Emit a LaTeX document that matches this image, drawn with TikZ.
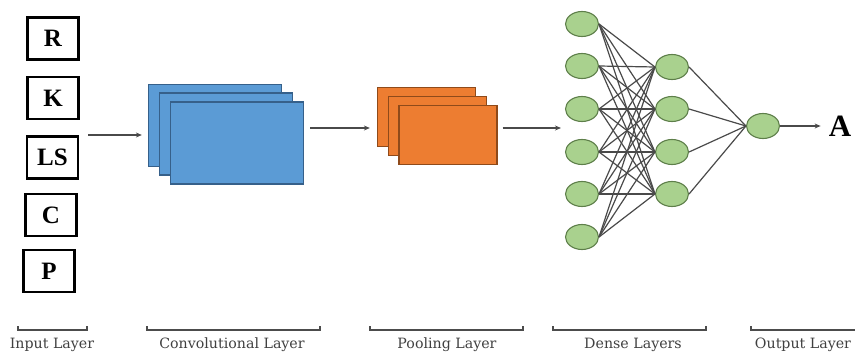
\documentclass[tikz,border=0pt]{standalone}
\usepackage{fontspec}
\setmainfont{Liberation Serif}
\newfontfamily\boxfont{Liberation Serif Bold}
\newfontfamily\capfont{DejaVu Serif}
\usetikzlibrary{shapes.geometric,arrows.meta}

\definecolor{convblue}{HTML}{5B9BD5}
\definecolor{convedge}{HTML}{36608A}
\definecolor{poolorange}{HTML}{ED7D31}
\definecolor{pooledge}{HTML}{8F4A1A}
\definecolor{densegreen}{HTML}{A9D18E}
\definecolor{denseedge}{HTML}{5E7F4A}
\definecolor{wiregray}{HTML}{4A4A4A}

\tikzset{
	inbox/.style = {draw, line width = 2.6pt, minimum width = 51pt, minimum height = 42pt, inner sep = 0pt, font = \boxfont\fontsize{25}{25}\selectfont},
	convmap/.style = {draw = convedge, fill = convblue, line width = 1.3pt, minimum width = 133pt, minimum height = 82pt, inner sep = 0pt},
	poolmap/.style = {draw = pooledge, fill = poolorange, line width = 1.3pt, minimum width = 98pt, minimum height = 59pt, inner sep = 0pt},
	neuron/.style = {ellipse, draw = denseedge, fill = densegreen, line width = 1.1pt, minimum width = 33pt, minimum height = 25pt, inner sep = 0pt},
	wire/.style = {draw = wiregray, line width = 1.2pt},
	flow/.style = {draw = wiregray, line width = 1.4pt, -{Stealth[length = 6pt, width = 5pt]}},
	brace/.style = {draw = black!70, line width = 2pt},
	caption/.style = {font = \capfont\fontsize{14.2}{15}\selectfont, text = black!75, inner sep = 0pt}
}

\begin{document}
\begin{tikzpicture}[x = 1pt, y = -1pt]
	\useasboundingbox (0, 0) rectangle (855, 353);

	% input layer
	\node [inbox] (r) at (53, 38.5) {R};
	\node [inbox] (k) at (53, 98) {K};
	\node [inbox] (ls) at (52.5, 157.5) {LS};
	\node [inbox] (c) at (51, 215) {C};
	\node [inbox] (p) at (49, 271) {P};

	% convolutional layer
	\node [convmap] (conv1) at (215, 125.5) {};
	\node [convmap] (conv2) at (226, 134) {};
	\node [convmap] (conv3) at (237, 143) {};

	% pooling layer
	\node [poolmap] (pool1) at (426.5, 117) {};
	\node [poolmap] (pool2) at (437.5, 126) {};
	\node [poolmap] (pool3) at (448, 135) {};

	% dense layers
	\foreach \i/\y in {1/24, 2/66, 3/109, 4/152, 5/194, 6/237}
		\node [neuron] (d\i) at (582, \y) {};
	\foreach \j/\y in {1/67, 2/109, 3/152, 4/194}
		\node [neuron] (h\j) at (672, \y) {};
	\node [neuron] (out) at (763, 126) {};
	\node [font = \boxfont\fontsize{31}{31}\selectfont, inner sep = 0pt] (a) at (840, 126) {A};

	\foreach \i in {1, ..., 6}
		\foreach \j in {1, ..., 4}
			\draw [wire] (d\i.east) -- (h\j.west);
	\foreach \j in {1, ..., 4}
		\draw [wire] (h\j.east) -- (out.west);

	% arrows between the layers
	\coordinate (inflow) at (88, 135);
	\draw [flow] (inflow) -- ([xshift = -6pt] conv1.west |- inflow);
	\draw [flow] ([xshift = 6pt] conv3.east |- 0, 128) -- ([xshift = -7pt] pool1.west |- 0, 128);
	\draw [flow] ([xshift = 5pt] pool3.east |- 0, 128) -- ([xshift = -4pt] d3.west |- 0, 128);
	\draw [flow] (out.east) -- ([xshift = -8pt] a.west);

	% brackets and captions
	\draw [brace] (18, 326) -- (18, 330) -- (87, 330) -- (87, 326);
	\draw [brace] (147, 326) -- (147, 330) -- (320, 330) -- (320, 326);
	\draw [brace] (370, 326) -- (370, 330) -- (523, 330) -- (523, 326);
	\draw [brace] (553, 326) -- (553, 330) -- (706, 330) -- (706, 326);
	\draw [brace] (751, 326) -- (751, 330) -- (856, 330);
	\node [caption] (capin) at (52, 345) {Input Layer};
	\node [caption] (capconv) at (232, 345) {Convolutional Layer};
	\node [caption] (cappool) at (447, 345) {Pooling Layer};
	\node [caption] (capdense) at (633, 345) {Dense Layers};
	\node [caption] (capout) at (803, 345) {Output Layer};
\end{tikzpicture}
\end{document}
